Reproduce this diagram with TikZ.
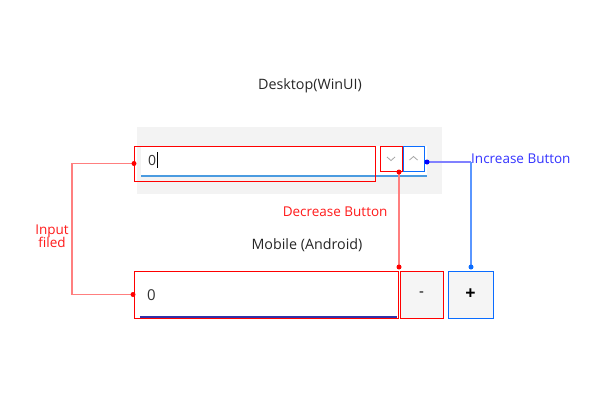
\documentclass[tikz,border=0pt]{standalone}
\usepackage{fontspec}
\setmainfont{Open Sans}
\definecolor{bggray}{HTML}{F3F3F3}
\definecolor{btngray}{HTML}{F5F5F5}
\definecolor{azure}{HTML}{0A6CFF}
\definecolor{uline}{HTML}{4A9BE0}
\definecolor{mline}{HTML}{3030A8}
\definecolor{redln}{HTML}{FF7F7F}
\definecolor{blueln}{HTML}{8080FF}
\definecolor{blueln2}{HTML}{5A96FF}
\definecolor{labred}{HTML}{FF1A1A}
\definecolor{labblue}{HTML}{3333FF}
\begin{document}
\begin{tikzpicture}[x=1pt,y=-1pt,
  boxa/.style={rectangle, anchor=north west, inner sep=0pt, outer sep=0pt},
  redbox/.style={boxa, draw=red, line width=1pt},
  bluebox/.style={boxa, draw=azure, line width=1pt},
  redlink/.style={draw=redln, line width=1.5pt},
  bluelink/.style={draw=blueln, line width=1.5pt},
  bluelink2/.style={draw=blueln2, line width=1.5pt},
  rdot/.style={circle, fill=red, inner sep=0pt, minimum size=5pt},
  bdot/.style={circle, fill=blue, inner sep=0pt, minimum size=5pt},
  adot/.style={circle, fill=azure, inner sep=0pt, minimum size=5pt},
  title/.style={font=\fontsize{14.3}{16}\selectfont, text=black!85},
  lab/.style={font=\fontsize{13.5}{15}\selectfont},
  digit/.style={text=black!80, anchor=west, inner sep=0pt}
]
\useasboundingbox (0,0) rectangle (593,400);
% titles
\node[title] (tdesk) at (310,86) {Desktop(WinUI)};
\node[title] (tmob) at (307,245) {Mobile (Android)};
% desktop
\node[boxa, fill=bggray, minimum width=305pt, minimum height=67pt] (dbg) at (137,127) {};
\node[boxa, fill=white, minimum width=286pt, minimum height=30pt] (dwhite) at (141,146) {};
\draw[uline, line width=2pt] (dwhite.south west) -- (dwhite.south east);
\node[redbox, minimum width=241pt, minimum height=35pt] (din) at (134,146) {};
\node[redbox, minimum width=22pt, minimum height=25pt] (ddec) at (380,146) {};
\node[bluebox, minimum width=21pt, minimum height=25pt] (dinc) at (403,146) {};
\draw[black!35, line width=0.8pt] ([xshift=-4pt,yshift=1.5pt]ddec.center) -- ([yshift=-2pt]ddec.center) -- ([xshift=4pt,yshift=1.5pt]ddec.center);
\draw[black!35, line width=0.8pt] ([xshift=-4pt,yshift=-1.5pt]dinc.center) -- ([yshift=2pt]dinc.center) -- ([xshift=4pt,yshift=-1.5pt]dinc.center);
\node[digit, font=\fontsize{14}{16}\selectfont] (d0) at (148,160) {0};
\draw[black, line width=1pt] ([xshift=1.2pt]d0.east) ++(0,-8) -- ++(0,16);
% mobile
\node[redbox, fill=white, minimum width=264pt, minimum height=47pt] (min) at (134,271) {};
\draw[mline, line width=2pt] (140,316.5) -- (397,316.5);
\node[boxa, fill=btngray, minimum width=43pt, minimum height=47pt] (mdecbg) at (400,271) {};
\node[redbox, minimum width=43pt, minimum height=47pt] (mdec) at (400,271) {\fontsize{15}{16}\selectfont -};
\node[bluebox, fill=btngray, minimum width=45pt, minimum height=47pt] (minc) at (448,271) {\fontsize{18}{19}\selectfont\bfseries +};
\node[digit, font=\fontsize{15}{17}\selectfont] (m0) at (147,295) {0};
% links
\coordinate (lx) at (72,0);
\draw[redlink] (din.west) -- (din.west -| lx) |- (min.west);
\node[rdot] (dotdin) at (din.west) {};
\node[rdot] (dotmin) at ([xshift=-1pt]min.west) {};
\node[lab, text=labred, align=center] (linput) at (52,236) {Input\\[-2pt]filed};
\coordinate (decend) at (399,267);
\coordinate (decstart) at (399,172);
\draw[redlink] (decstart) -- (decend);
\node[rdot] (dotddec) at (decstart) {};
\node[rdot] (dotmdec) at (decend) {};
\node[lab, text=labred, anchor=east] (ldec) at (391,212) {Decrease Button};
\coordinate (incstart) at (427,162);
\coordinate (inccorner) at (471,162);
\coordinate (incend) at (471,267);
\draw[bluelink] (incstart) -- (inccorner);
\draw[bluelink2] (inccorner) -- (incend);
\node[bdot] (dotdinc) at (incstart) {};
\node[adot] (dotminc) at (incend) {};
\node[lab, text=labblue, anchor=west, inner sep=1pt] (linc) at (470,159) {Increase Button};
\end{tikzpicture}
\end{document}
